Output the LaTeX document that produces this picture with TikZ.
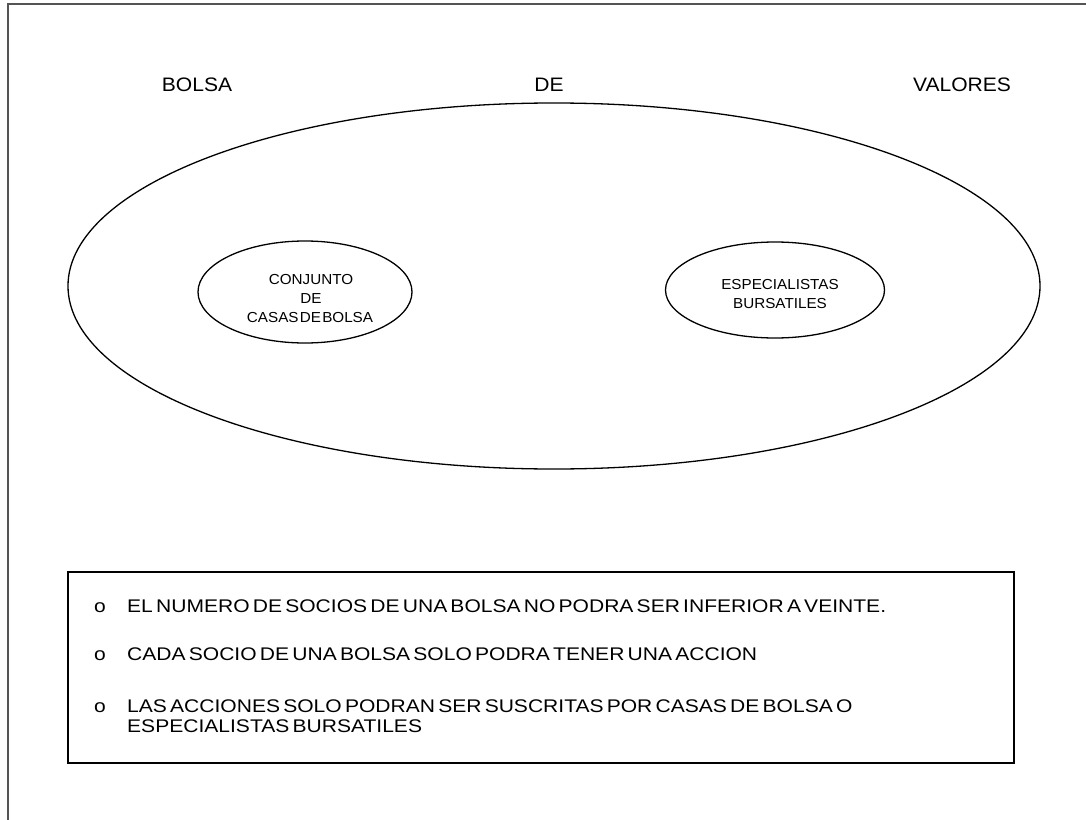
\documentclass[tikz,border=0pt]{standalone}
\usepackage{fontspec}
\setmainfont{Liberation Sans}
\newfontfamily\titlefont[FakeStretch=1.08,WordSpace=0.5]{Liberation Sans}
\newfontfamily\ellfont[FakeStretch=1.05,WordSpace=0.3]{Liberation Sans}
\newfontfamily\bulfont[FakeStretch=1.15,WordSpace=0.55]{Liberation Sans}
\usetikzlibrary{shapes.geometric}
\definecolor{framecol}{gray}{0.33}
\tikzset{
  title/.style={anchor=base, inner sep=0pt, font=\titlefont\fontsize{19.5bp}{23bp}\selectfont},
  elltext/.style={anchor=base, inner sep=0pt, font=\ellfont\fontsize{14.5bp}{17bp}\selectfont},
  bultext/.style={anchor=base west, inner sep=0pt, font=\bulfont\fontsize{18.3bp}{21bp}\selectfont},
  bulmark/.style={anchor=base, inner sep=0pt, font=\bulfont\fontsize{18.3bp}{21bp}\selectfont},
  oval/.style={ellipse, draw=black, line width=1.3bp, inner sep=0pt},
  notebox/.style={draw=black, line width=1.3bp, inner sep=0pt}
}
\begin{document}
\begin{tikzpicture}[x=1bp,y=-1bp]
\useasboundingbox (0,0) rectangle (1086,820);
% page frame (cut off at right and bottom)
\coordinate (fTR) at (1086,4);
\coordinate (fTL) at (8,4);
\coordinate (fBL) at (8,820);
\draw[framecol, line width=2bp] (fTR) -- (fTL) -- (fBL);
% titles
\node[title] (tBolsa) at (197,92) {BOLSA};
\node[title] (tDe) at (549,92) {DE};
\node[title] (tValores) at (962,92) {VALORES};
% big ellipse
\node[oval, minimum width=972bp, minimum height=366bp] (big) at (554,286) {};
% inner ellipses
\node[oval, minimum width=214bp, minimum height=102bp] (left) at (305,292) {};
\node[oval, minimum width=219bp, minimum height=96bp] (right) at (775,290) {};
\node[elltext] (l1) at (311,284.5) {CONJUNTO};
\node[elltext] (l2) at (311,303.5) {DE};
\node[elltext] (l3) at (310,322.5) {CASAS DE BOLSA};
\node[elltext] (r1) at (780,289) {ESPECIALISTAS};
\node[elltext] (r2) at (780,308) {BURSATILES};
% notes box
\node[notebox, minimum width=946bp, minimum height=191bp] (box) at (541,667.5) {};
\node[bulmark] (o1) at (100,612) {o};
\node[bultext] (b1) at (127,612) {EL NUMERO DE SOCIOS DE UNA BOLSA NO PODRA SER INFERIOR A VEINTE.};
\node[bulmark] (o2) at (100,660) {o};
\node[bultext] (b2) at (127,660) {CADA SOCIO DE UNA BOLSA SOLO PODRA TENER UNA ACCION};
\node[bulmark] (o3) at (100,712) {o};
\node[bultext] (b3) at (127,712) {LAS ACCIONES SOLO PODRAN SER SUSCRITAS POR CASAS DE BOLSA O};
\node[bultext] (b4) at (127,732) {ESPECIALISTAS BURSATILES};
\end{tikzpicture}
\end{document}
